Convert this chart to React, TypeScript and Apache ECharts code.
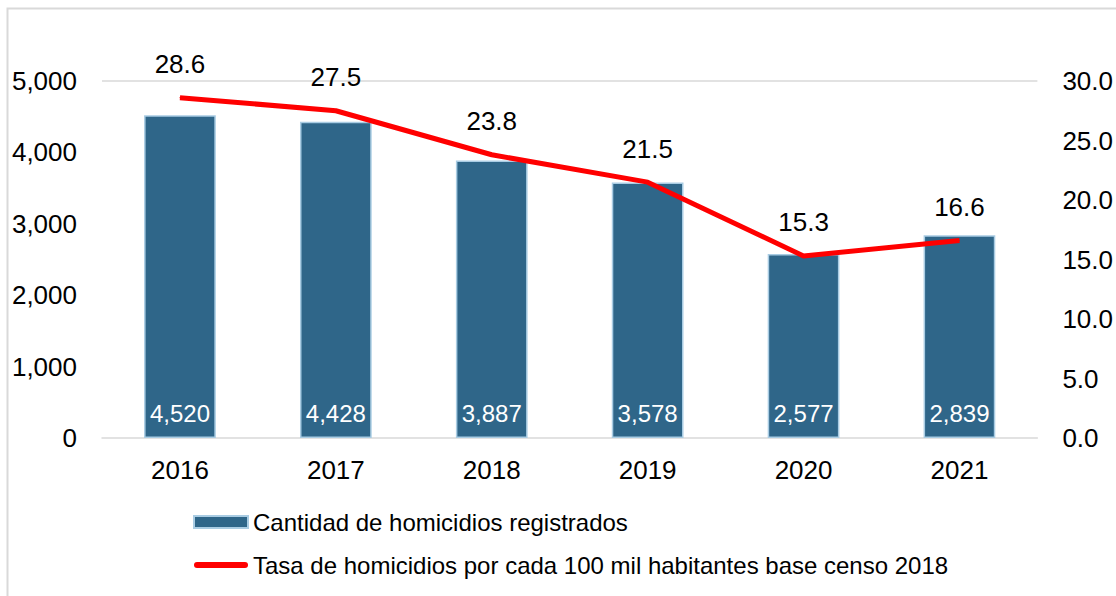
import React, { useEffect, useRef } from "react";
import * as echarts from "echarts";

const categories = ["2016", "2017", "2018", "2019", "2020", "2021"];
const homicidios = [4520, 4428, 3887, 3578, 2577, 2839];
const tasa = [28.6, 27.5, 23.8, 21.5, 15.3, 16.6];
const barName = "Cantidad de homicidios registrados";
const lineName = "Tasa de homicidios por cada 100 mil habitantes base censo 2018";

export default function App() {
  const ref = useRef<HTMLDivElement>(null);
  useEffect(() => {
    const chart = echarts.init(ref.current!, null, { renderer: "svg" });
    const font = "'Liberation Sans', Arial, sans-serif";
    chart.setOption({
      animation: false,
      textStyle: { fontFamily: font },
      graphic: [
        {
          type: "rect",
          shape: { x: 7.5, y: 8.5, width: 1130, height: 620 },
          style: { fill: "none", stroke: "#d9d9d9", lineWidth: 2 },
          silent: true,
        },
      ],
      grid: { left: 102, right: 78, top: 81, bottom: 158 },
      legend: {
        orient: "vertical",
        left: 188,
        top: 505,
        itemWidth: 54,
        itemHeight: 12,
        itemGap: 19,
        textStyle: { fontSize: 24, color: "#000", fontFamily: font },
        data: [
          { name: barName, icon: "rect" },
          { name: lineName, icon: "path://M3,0L51,0A3,3,0,0,1,51,6L3,6A3,3,0,0,1,3,0Z" },
        ],
      },
      xAxis: {
        type: "category",
        data: categories,
        axisTick: { show: false },
        axisLine: { lineStyle: { color: "#d9d9d9", width: 1.5 } },
        axisLabel: { fontSize: 26, color: "#000", margin: 19 },
      },
      yAxis: [
        {
          type: "value",
          min: 0,
          max: 5000,
          interval: 1000,
          axisLabel: {
            fontSize: 26,
            color: "#000",
            margin: 25,
            formatter: (v: number) => v.toLocaleString("en-US"),
          },
          splitLine: {
            show: true,
            lineStyle: { color: ["transparent", "transparent", "transparent", "transparent", "transparent", "#d9d9d9"], width: 1.5 },
          },
        },
        {
          type: "value",
          min: 0,
          max: 30,
          interval: 5,
          position: "right",
          axisLabel: {
            fontSize: 26,
            color: "#000",
            margin: 25,
            formatter: (v: number) => v.toFixed(1),
          },
          splitLine: { show: false },
        },
      ],
      series: [
        {
          name: barName,
          type: "bar",
          data: homicidios,
          barWidth: "46%",
          itemStyle: { color: "#2F6689", borderColor: "#A9CCE3", borderWidth: 1.5 },
          label: {
            show: true,
            position: "insideBottom",
            distance: 13,
            color: "#fff",
            fontSize: 24,
            formatter: (p: any) => Number(p.value).toLocaleString("en-US"),
          },
        },
        {
          name: lineName,
          type: "line",
          yAxisIndex: 1,
          data: tasa,
          showSymbol: true,
          symbol: "circle",
          symbolSize: 1,
          lineStyle: { color: "#FF0000", width: 5 },
          itemStyle: { color: "#FF0000" },
          label: {
            show: true,
            position: "top",
            distance: 20,
            color: "#000",
            fontSize: 26,
            formatter: (p: any) => Number(p.value).toFixed(1),
          },
        },
      ],
    });
    return () => chart.dispose();
  }, []);
  return (
    <div
      ref={ref}
      style={{ position: "fixed", left: 0, top: 0, width: 1116, height: 596, background: "#fff" }}
    />
  );
}
